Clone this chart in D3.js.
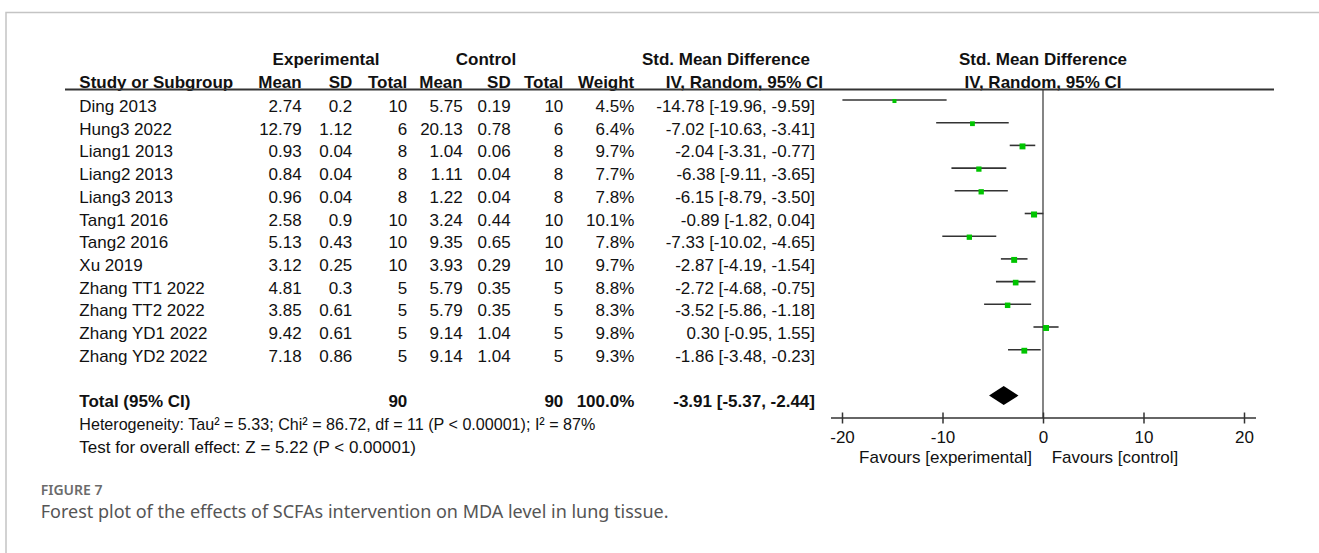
<!DOCTYPE html>
<html>
<head>
<meta charset="utf-8">
<script src="https://cdn.jsdelivr.net/npm/d3@7"></script>
<style>
  html, body { margin: 0; padding: 0; background: #fff; }
  svg { display: block; }
  .t { font-family: "Liberation Sans", Arial, sans-serif; font-size: 17px; fill: #111; }
  .b { font-weight: bold; }
  .cap { font-family: "Noto Sans", "Open Sans", sans-serif; fill: #6b6b6b; }
</style>
</head>
<body>
<svg id="chart" width="1319" height="553"></svg>
<script>
// ---------------- data ----------------
const studies   = ["Ding 2013","Hung3 2022","Liang1 2013","Liang2 2013","Liang3 2013","Tang1 2016","Tang2 2016","Xu 2019","Zhang TT1 2022","Zhang TT2 2022","Zhang YD1 2022","Zhang YD2 2022"];
const expMean   = [2.74, 12.79, 0.93, 0.84, 0.96, 2.58, 5.13, 3.12, 4.81, 3.85, 9.42, 7.18];
const expSD     = [0.2, 1.12, 0.04, 0.04, 0.04, 0.9, 0.43, 0.25, 0.3, 0.61, 0.61, 0.86];
const expN      = [10, 6, 8, 8, 8, 10, 10, 10, 5, 5, 5, 5];
const ctlMean   = [5.75, 20.13, 1.04, 1.11, 1.22, 3.24, 9.35, 3.93, 5.79, 5.79, 9.14, 9.14];
const ctlSD     = [0.19, 0.78, 0.06, 0.04, 0.04, 0.44, 0.65, 0.29, 0.35, 0.35, 1.04, 1.04];
const ctlN      = [10, 6, 8, 8, 8, 10, 10, 10, 5, 5, 5, 5];
const weights   = [4.5, 6.4, 9.7, 7.7, 7.8, 10.1, 7.8, 9.7, 8.8, 8.3, 9.8, 9.3];
const smd       = [-14.78, -7.02, -2.04, -6.38, -6.15, -0.89, -7.33, -2.87, -2.72, -3.52, 0.30, -1.86];
const ciLow     = [-19.96, -10.63, -3.31, -9.11, -8.79, -1.82, -10.02, -4.19, -4.68, -5.86, -0.95, -3.48];
const ciHigh    = [-9.59, -3.41, -0.77, -3.65, -3.50, 0.04, -4.65, -1.54, -0.75, -1.18, 1.55, -0.23];
const totalExpN = 90;
const totalCtlN = 90;
const totalWeight = 100.0;
const totalSMD  = -3.91;
const totalLow  = -5.37;
const totalHigh = -2.44;
const xTicks    = [-20, -10, 0, 10, 20];
const heterogeneity = "Heterogeneity: Tau² = 5.33; Chi² = 86.72, df = 11 (P < 0.00001); I² = 87%";
const overallTest   = "Test for overall effect: Z = 5.22 (P < 0.00001)";
const favoursLeft   = "Favours [experimental]";
const favoursRight  = "Favours [control]";
const figLabel      = "FIGURE 7";
const figCaption    = "Forest plot of the effects of SCFAs intervention on MDA level in lung tissue.";

// ---------------- layout ----------------
const svg = d3.select("#chart");
const x = d3.scaleLinear().domain([-20, 20]).range([842, 1244]);
const y = d3.scaleLinear().domain([0, 11]).range([106, 355.7]);   // text centre of each study row
const rowStep = y(1) - y(0);
const yTotal = y(11) + 2 * rowStep;
const base = 6;      // centre -> baseline
const mark = -6;     // centre -> marker line

const loc = d3.formatLocale({ decimal: ".", thousands: ",", grouping: [3], currency: ["", ""], minus: "-" });
const f2 = loc.format(".2f");
const f1 = loc.format(".1f");
const f0 = loc.format("d");
const num = v => String(v);

// card border (top + left)
svg.append("path").attr("d", "M6,553 V12.5 H1319")
  .attr("fill", "none").attr("stroke", "#c4c4c4").attr("stroke-width", 1.5);

function txt(s, xx, yy, anchor, cls) {
  return svg.append("text").attr("class", "t " + (cls || ""))
    .attr("x", xx).attr("y", yy).attr("text-anchor", anchor || "start").text(s);
}

// column right edges
const col = { em: 301.7, esd: 352.3, en: 407.3, cm: 462.7, csd: 510.7, cn: 563.3, w: 634.3, ci: 815 };

// headers
const h1 = 59 + base, h2 = 81.7 + base;
txt("Experimental", 326, h1, "middle", "b");
txt("Control", 486, h1, "middle", "b");
txt("Std. Mean Difference", 726, h1, "middle", "b");
txt("Std. Mean Difference", x(0), h1, "middle", "b");
txt("Study or Subgroup", 79.3, h2, "start", "b");
txt("Mean", col.em, h2, "end", "b");
txt("SD", col.esd, h2, "end", "b");
txt("Total", col.en, h2, "end", "b");
txt("Mean", col.cm, h2, "end", "b");
txt("SD", col.csd, h2, "end", "b");
txt("Total", col.cn, h2, "end", "b");
txt("Weight", col.w, h2, "end", "b");
txt("IV, Random, 95% CI", 823, h2, "end", "b");
txt("IV, Random, 95% CI", x(0), h2, "middle", "b");

// header rule
svg.append("line").attr("x1", 65).attr("x2", 1274).attr("y1", 89.5).attr("y2", 89.5)
  .attr("stroke", "#333").attr("stroke-width", 1.8);

// zero line
svg.append("line").attr("x1", x(0)).attr("x2", x(0)).attr("y1", 89.5).attr("y2", 418)
  .attr("stroke", "#333").attr("stroke-width", 1.2);

// study rows
studies.forEach((s, i) => {
  const yy = y(i) + base;
  txt(s, 79.3, yy);
  txt(num(expMean[i]), col.em, yy, "end");
  txt(num(expSD[i]), col.esd, yy, "end");
  txt(num(expN[i]), col.en, yy, "end");
  txt(num(ctlMean[i]), col.cm, yy, "end");
  txt(num(ctlSD[i]), col.csd, yy, "end");
  txt(num(ctlN[i]), col.cn, yy, "end");
  txt(f1(weights[i]) + "%", col.w, yy, "end");
  txt(f2(smd[i]) + " [" + f2(ciLow[i]) + ", " + f2(ciHigh[i]) + "]", col.ci, yy, "end");
});

// whiskers and squares
const g = svg.append("g");
g.selectAll("line.ci").data(studies).join("line").attr("class", "ci")
  .attr("x1", (d, i) => x(ciLow[i])).attr("x2", (d, i) => x(ciHigh[i]))
  .attr("y1", (d, i) => y(i) + mark).attr("y2", (d, i) => y(i) + mark)
  .attr("stroke", "#333").attr("stroke-width", 1.6);
const sz = w => 1.9 * Math.sqrt(w);
g.selectAll("rect.sq").data(studies).join("rect").attr("class", "sq")
  .attr("x", (d, i) => x(smd[i]) - sz(weights[i]) / 2)
  .attr("y", (d, i) => y(i) + mark + 1 - sz(weights[i]) / 2)
  .attr("width", (d, i) => sz(weights[i])).attr("height", (d, i) => sz(weights[i]))
  .attr("fill", "#00c400");

// total row
const yt = yTotal + base;
txt("Total (95% CI)", 79.3, yt, "start", "b");
txt(num(totalExpN), col.en, yt, "end", "b");
txt(num(totalCtlN), col.cn, yt, "end", "b");
txt(f1(totalWeight) + "%", col.w, yt, "end", "b");
txt(f2(totalSMD) + " [" + f2(totalLow) + ", " + f2(totalHigh) + "]", col.ci, yt, "end", "b");

const dy = yTotal - 5.5, dh = 9.5;
svg.append("path")
  .attr("d", `M${x(totalLow)},${dy} L${x(totalSMD)},${dy - dh} L${x(totalHigh)},${dy} L${x(totalSMD)},${dy + dh} Z`)
  .attr("fill", "#000");

txt(heterogeneity, 79.3, yTotal + rowStep + base)
  .attr("textLength", 516).attr("lengthAdjust", "spacingAndGlyphs");
txt(overallTest, 79.3, yTotal + 2 * rowStep + base);

// x axis
const axisY = 418;
svg.append("line").attr("x1", 831).attr("x2", 1256).attr("y1", axisY).attr("y2", axisY)
  .attr("stroke", "#333").attr("stroke-width", 1.6);
const ax = svg.append("g").attr("transform", `translate(0,${axisY})`)
  .call(d3.axisBottom(x).tickValues(xTicks).tickFormat(f0).tickSize(5).tickSizeOuter(0).tickPadding(8));
ax.select(".domain").remove();
ax.selectAll(".tick line").attr("y1", -5.5).attr("y2", 5.5).attr("stroke", "#333").attr("stroke-width", 1.5);
ax.selectAll(".tick text").attr("class", "t").attr("dy", null).attr("y", 443 - axisY)
  .style("font-size", "17px").attr("fill", "#111");

txt(favoursLeft, 1032, 463, "end");
txt(favoursRight, 1051.7, 463, "start");

// caption
svg.append("text").attr("class", "cap").attr("x", 40.7).attr("y", 495)
  .style("font-size", "14px").style("font-weight", 600).text(figLabel);
svg.append("text").attr("class", "cap").attr("x", 40.7).attr("y", 518)
  .style("font-size", "18px").style("fill", "#555").text(figCaption);
</script>
</body>
</html>
